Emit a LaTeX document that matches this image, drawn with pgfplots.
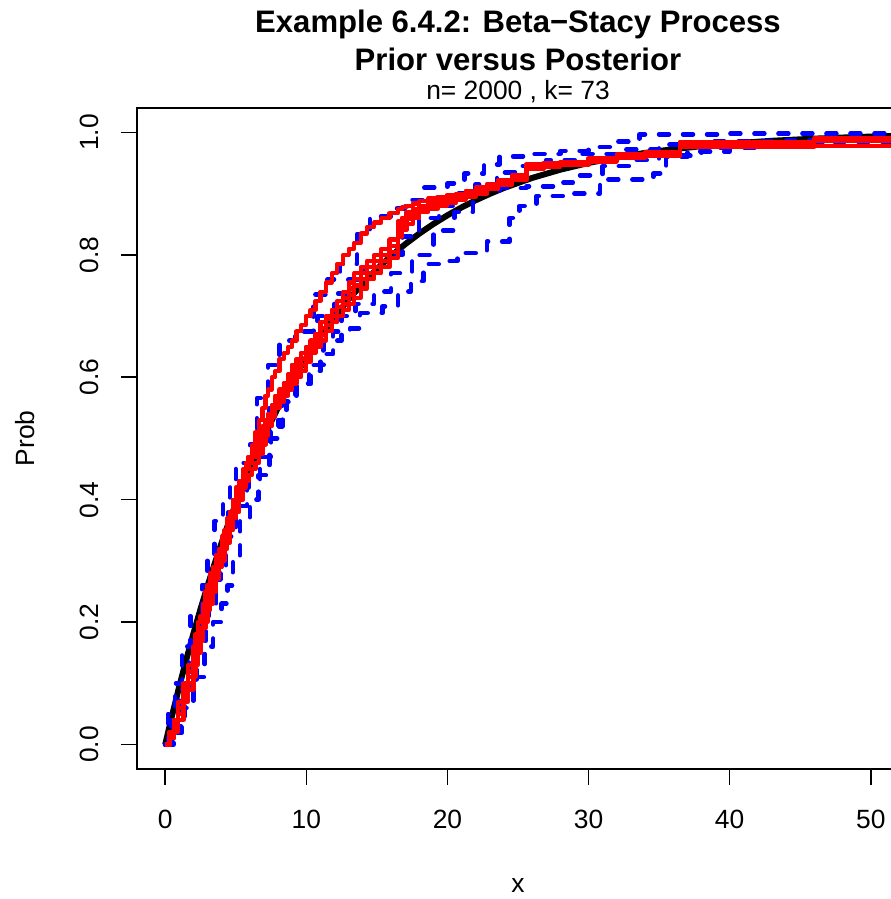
\documentclass[border=0pt]{standalone}
\usepackage{fontspec}
\setmainfont{Liberation Sans}
\usepackage{pgfplots}
\pgfplotsset{compat=1.18}
\begin{document}
\begin{tikzpicture}[x=1bp,y=1bp]
\path[use as bounding box] (-137,-130) rectangle (754,769);
\begin{axis}[at={(0,0)}, anchor=south west, scale only axis,
  width=762bp, height=661bp,
  xmin=-2, xmax=52, ymin=-0.04, ymax=1.04,
  xtick={0,10,20,30,40,50}, ytick={0,0.2,0.4,0.6,0.8,1.0},
  tick pos=left, tick align=outside, major tick length=16bp,
  every tick/.style={black, line width=1.6bp},
  axis line style={line width=1.6bp},
  /pgf/number format/assume math mode=true,
  ticklabel style={font=\fontsize{26.5}{30}\selectfont},
  yticklabel={\pgfmathprintnumber[fixed,fixed zerofill,precision=1]{\tick}},
  xticklabel style={anchor=north, inner sep=0pt},
  yticklabel style={rotate=90, anchor=south, inner sep=0pt},
  xticklabel shift=25bp, yticklabel shift=21.7bp,
  clip=true]
% prior mean (black)
\addplot[black, line width=6bp, line join=round] coordinates {
(0,0) (0.5,0.0488) (1,0.0952) (1.5,0.1393) (2,0.1813) (2.5,0.2212) (3,0.2592) (3.5,0.2953) (4,0.3297) (4.5,0.3624) (5,0.3935)
(6,0.4512) (7,0.5034) (8,0.5507) (9,0.5934) (10,0.6321) (11,0.6671) (12,0.6988) (13,0.7275) (14,0.7534) (15,0.7769)
(16,0.7981) (17,0.8173) (18,0.8347) (19,0.8504) (20,0.8647) (21,0.8775) (22,0.8892) (23,0.8997) (24,0.9093) (26,0.9257)
(28,0.9392) (30,0.9502) (32,0.9592) (34,0.9666) (36,0.9727) (38,0.9776) (40,0.9817) (43,0.9864) (46,0.9899) (49,0.9926) (52,0.9945)};
% blue dashed
\addplot[blue, const plot, line width=4.5bp, line cap=round, line join=round, dash pattern=on 10bp off 14bp] coordinates {
(0,0) (0.2,0.05) (0.7,0.10) (1.2,0.16) (1.8,0.21) (2.6,0.26) (3.0,0.31) (3.5,0.365) (4.1,0.40) (4.6,0.43) (5.0,0.46) (6.0,0.49)
(6.5,0.566) (7.3,0.62) (8.1,0.66) (9.2,0.675) (10.5,0.735) (11.5,0.76) (12.4,0.785) (13.6,0.834) (14.5,0.863) (16.0,0.876)
(17.0,0.89) (18.3,0.91) (20.0,0.917) (21.2,0.933) (22.6,0.948) (23.7,0.961) (26.0,0.965) (28.0,0.97) (30.0,0.976) (32.0,0.985)
(33.6,0.997) (40,0.998) (52,0.999)};
\addplot[blue, const plot, line width=4.5bp, line cap=round, line join=round, dash pattern=on 10bp off 14bp] coordinates {
(0,0) (0.4,0.04) (1.0,0.09) (1.7,0.15) (2.4,0.21) (3.1,0.27) (3.9,0.33) (4.5,0.38) (5.2,0.42) (5.9,0.46) (6.6,0.50) (7.4,0.55)
(8.2,0.59) (9.0,0.62) (10.0,0.66) (10.8,0.70) (12.0,0.737) (13.0,0.76) (14.2,0.78) (15.3,0.80) (16.8,0.83) (18.0,0.86)
(19.4,0.88) (20.8,0.90) (22.0,0.915) (23.5,0.935) (25.0,0.945) (27.0,0.955) (29.5,0.965) (32.0,0.972) (35.0,0.98) (38.0,0.985)
(44.0,0.987) (52,0.99)};
\addplot[blue, const plot, line width=4.5bp, line cap=round, line join=round, dash pattern=on 10bp off 14bp] coordinates {
(0,0) (0.6,0.03) (1.4,0.10) (2.2,0.17) (2.9,0.22) (3.6,0.28) (4.3,0.34) (5.0,0.39) (5.8,0.43) (6.7,0.47) (7.5,0.52) (8.3,0.56)
(9.2,0.59) (10.2,0.62) (11.2,0.66) (12.5,0.70) (13.5,0.72) (14.8,0.74) (16.0,0.77) (17.5,0.80) (19.0,0.84) (20.5,0.87)
(21.8,0.905) (23.7,0.909) (25.6,0.912) (27.5,0.918) (28.9,0.93) (31.0,0.945) (33.0,0.955) (35.0,0.962) (38.0,0.975)
(42.0,0.982) (48.0,0.985) (52,0.987)};
\addplot[blue, const plot, line width=4.5bp, line cap=round, line join=round, dash pattern=on 10bp off 14bp] coordinates {
(0,0) (0.5,0.02) (1.2,0.06) (2.0,0.11) (2.8,0.16) (3.4,0.20) (4.0,0.23) (4.4,0.26) (4.8,0.30) (5.3,0.37) (6.0,0.40) (6.6,0.44)
(7.4,0.50) (8.0,0.53) (8.6,0.561) (9.3,0.589) (10.3,0.61) (11.0,0.638) (11.9,0.675) (13.1,0.68) (13.8,0.705) (15.4,0.716)
(16.5,0.74) (17.4,0.757) (18.3,0.785) (19.5,0.79) (20.7,0.803) (22.8,0.822) (24.4,0.86) (25.1,0.88) (26.3,0.896) (28.2,0.90)
(30.8,0.923) (34.6,0.933) (35.5,0.96) (37,0.969) (40,0.978) (45,0.985) (52,0.99)};
% red posterior draws
\addplot[red, const plot, line width=4.2bp, line join=round] coordinates {
(0,0)(0.3,.02)(0.6,.04)(0.9,.07)(1.3,.10)(1.6,.13)(2.0,.16)(2.15,.18)(2.3,.20)(2.5,.21)(2.7,.23)(2.85,.25)(3.0,.26)(3.2,.28)(3.4,.29)(3.6,.31)(3.8,.32)(4.0,.34)(4.2,.35)(4.4,.37)(4.6,.38)(4.8,.40)(5.0,.41)(5.25,.43)(5.5,.44)(5.7,.46)(5.9,.47)(6.15,.49)(6.4,.51)(6.65,.53)(6.9,.55)(7.1,.57)(7.3,.58)(7.55,.60)(7.8,.61)(8.1,.63)(8.4,.64)(8.7,.65)(9.0,.66)(9.3,.675)(9.6,.685)(9.95,.70)(10.3,.71)(10.65,.725)(11.0,.74)(11.4,.755)(11.8,.77)(12.2,.785)(12.6,.80)(13.0,.81)(13.4,.82)(13.85,.835)(14.3,.845)(14.8,.853)(15.3,.86)(15.9,.868)(16.5,.875)(16.8,.878)(17.1,.88)(17.55,.884)(18.0,.888)(18.65,.892)(19.3,.895)(19.95,.898)(20.6,.90)(21.3,.904)(22.0,.908)(22.8,.913)(23.6,.92)(24.6,.927)(25.6,.945)(26.8,.946)(28.0,.948)(30.0,.954)(32.0,.96)(34.0,.965)(36.5,.984)(46.0,.99)(52,.99)};
\addplot[red, const plot, line width=4.2bp, line join=round] coordinates {
(0,0)(0.3,.01)(0.6,.03)(0.9,.05)(1.3,.08)(1.6,.11)(2.0,.13)(2.15,.15)(2.3,.17)(2.5,.18)(2.7,.20)(2.85,.22)(3.0,.23)(3.2,.25)(3.4,.27)(3.6,.28)(3.8,.30)(4.0,.32)(4.2,.33)(4.4,.35)(4.6,.37)(4.8,.39)(5.0,.41)(5.25,.42)(5.5,.44)(5.7,.45)(5.9,.46)(6.15,.47)(6.4,.48)(6.65,.50)(6.9,.51)(7.1,.53)(7.3,.54)(7.55,.55)(7.8,.56)(8.1,.57)(8.4,.58)(8.7,.60)(9.0,.61)(9.3,.62)(9.6,.63)(9.95,.64)(10.3,.65)(10.65,.66)(11.0,.67)(11.4,.685)(11.8,.70)(12.2,.715)(12.6,.73)(13.0,.745)(13.4,.76)(13.85,.77)(14.3,.78)(14.8,.79)(15.3,.80)(15.9,.815)(16.5,.85)(16.8,.86)(17.1,.87)(17.55,.875)(18.0,.88)(18.65,.885)(19.3,.89)(19.95,.895)(20.6,.90)(21.3,.905)(22.0,.91)(22.8,.916)(23.6,.922)(24.6,.93)(25.6,.948)(26.8,.95)(28.0,.952)(30.0,.958)(32.0,.965)(34.0,.968)(36.5,.985)(46.0,.99)(52,.99)};
\addplot[red, const plot, line width=4.2bp, line join=round] coordinates {
(0,0)(0.3,.01)(0.6,.02)(0.9,.04)(1.3,.07)(1.6,.09)(2.0,.11)(2.15,.13)(2.3,.15)(2.5,.17)(2.7,.19)(2.85,.20)(3.0,.22)(3.2,.23)(3.4,.25)(3.6,.27)(3.8,.29)(4.0,.30)(4.2,.32)(4.4,.33)(4.6,.35)(4.8,.37)(5.0,.38)(5.25,.40)(5.5,.42)(5.7,.43)(5.9,.44)(6.15,.45)(6.4,.46)(6.65,.475)(6.9,.49)(7.1,.505)(7.3,.52)(7.55,.535)(7.8,.55)(8.1,.56)(8.4,.57)(8.7,.58)(9.0,.59)(9.3,.60)(9.6,.61)(9.95,.625)(10.3,.64)(10.65,.65)(11.0,.66)(11.4,.675)(11.8,.69)(12.2,.70)(12.6,.71)(13.0,.72)(13.4,.73)(13.85,.745)(14.3,.76)(14.8,.77)(15.3,.78)(15.9,.795)(16.5,.83)(16.8,.84)(17.1,.85)(17.55,.86)(18.0,.87)(18.65,.875)(19.3,.88)(19.95,.885)(20.6,.89)(21.3,.895)(22.0,.90)(22.8,.907)(23.6,.915)(24.6,.922)(25.6,.94)(26.8,.943)(28.0,.947)(30.0,.952)(32.0,.958)(34.0,.962)(36.5,.976)(46.0,.978)(52,.978)};
\addplot[red, const plot, line width=4.2bp, line join=round] coordinates {
(0,0)(0.3,.02)(0.6,.04)(0.9,.06)(1.3,.09)(1.6,.12)(2.0,.14)(2.15,.16)(2.3,.18)(2.5,.19)(2.7,.21)(2.85,.23)(3.0,.24)(3.2,.26)(3.4,.28)(3.6,.29)(3.8,.31)(4.0,.33)(4.2,.34)(4.4,.36)(4.6,.38)(4.8,.40)(5.0,.42)(5.25,.43)(5.5,.45)(5.7,.46)(5.9,.47)(6.15,.48)(6.4,.49)(6.65,.505)(6.9,.52)(7.1,.53)(7.3,.54)(7.55,.555)(7.8,.57)(8.1,.58)(8.4,.59)(8.7,.605)(9.0,.62)(9.3,.63)(9.6,.64)(9.95,.65)(10.3,.66)(10.65,.67)(11.0,.68)(11.4,.695)(11.8,.71)(12.2,.725)(12.6,.74)(13.0,.755)(13.4,.77)(13.85,.78)(14.3,.79)(14.8,.80)(15.3,.81)(15.9,.825)(16.5,.855)(16.8,.86)(17.1,.865)(17.55,.872)(18.0,.878)(18.65,.883)(19.3,.888)(19.95,.893)(20.6,.897)(21.3,.902)(22.0,.906)(22.8,.913)(23.6,.92)(24.6,.928)(25.6,.946)(26.8,.948)(28.0,.95)(30.0,.957)(32.0,.963)(34.0,.966)(36.5,.982)(46.0,.988)(52,.988)};
\addplot[red, const plot, line width=4.2bp, line join=round] coordinates {
(0,0)(0.3,.01)(0.6,.03)(0.9,.05)(1.3,.08)(1.6,.10)(2.0,.12)(2.15,.14)(2.3,.16)(2.5,.18)(2.7,.20)(2.85,.21)(3.0,.23)(3.2,.24)(3.4,.26)(3.6,.28)(3.8,.30)(4.0,.31)(4.2,.33)(4.4,.34)(4.6,.36)(4.8,.37)(5.0,.39)(5.25,.41)(5.5,.43)(5.7,.45)(5.9,.46)(6.15,.47)(6.4,.48)(6.65,.49)(6.9,.50)(7.1,.515)(7.3,.53)(7.55,.545)(7.8,.56)(8.1,.57)(8.4,.58)(8.7,.59)(9.0,.60)(9.3,.61)(9.6,.62)(9.95,.635)(10.3,.65)(10.65,.67)(11.0,.69)(11.4,.70)(11.8,.71)(12.2,.715)(12.6,.72)(13.0,.735)(13.4,.75)(13.85,.76)(14.3,.77)(14.8,.78)(15.3,.79)(15.9,.805)(16.5,.835)(16.8,.848)(17.1,.858)(17.55,.865)(18.0,.872)(18.65,.878)(19.3,.884)(19.95,.889)(20.6,.894)(21.3,.899)(22.0,.903)(22.8,.91)(23.6,.916)(24.6,.924)(25.6,.942)(26.8,.945)(28.0,.949)(30.0,.955)(32.0,.96)(34.0,.964)(36.5,.98)(46.0,.986)(52,.986)};
\end{axis}
% titles and axis labels
\node[anchor=base, inner sep=0pt, font=\fontsize{31.2}{36}\selectfont\bfseries] at (381,736) {Example 6.4.2: Beta\textminus Stacy Process};
\node[anchor=base, inner sep=0pt, font=\fontsize{31.2}{36}\selectfont\bfseries] at (381,698) {Prior versus Posterior};
\node[anchor=base, inner sep=0pt, font=\fontsize{26.5}{30}\selectfont] at (381,669) {n= 2000 , k= 73};
\node[anchor=base, inner sep=0pt, font=\fontsize{26.5}{30}\selectfont] at (381,-123) {x};
\node[anchor=base, inner sep=0pt, rotate=90, font=\fontsize{26.5}{30}\selectfont] at (-102.5,330.5) {Prob};
\end{tikzpicture}
\end{document}
